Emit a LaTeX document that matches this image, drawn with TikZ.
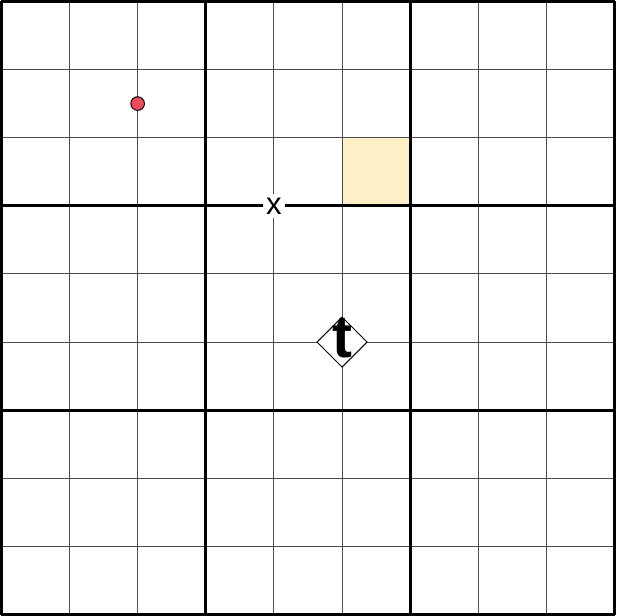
\documentclass[tikz,border=0pt]{standalone}
\usepackage{fontspec}
\setmainfont{Liberation Sans}
\usetikzlibrary{shapes.geometric}
\definecolor{cellfill}{HTML}{FFEFC6}
\definecolor{dotred}{HTML}{EE4C5C}
\begin{document}
\begin{tikzpicture} [thin line/.style = {line width = 0.4pt, black!70},
	thick line/.style = {line width = 1.3pt, black},
	mark t/.style = {diamond, draw, fill = white, inner sep = 0pt, minimum size = 0.74cm,
		label = {[font = \fontsize{25}{25}\selectfont\bfseries, yshift = 0.05cm]center:t}}]
	\useasboundingbox (-0.02,-0.02) rectangle (9.02,9.02);
	\fill [cellfill] (5,6) rectangle (6,7);
	\draw [thin line] (0,0) grid (9,9);
	\draw [thick line] (0,0) grid [step = 3] (9,9);
	\draw [fill = dotred, line width = 0.4pt] (2,7.5) circle (0.1cm) coordinate (dot);
	\node [fill = white, inner sep = 1.5pt, font = \fontsize{13}{13}\selectfont] (cross) at (4,6) {x};
	\node [mark t] (target) at (5,4) {};
\end{tikzpicture}
\end{document}
